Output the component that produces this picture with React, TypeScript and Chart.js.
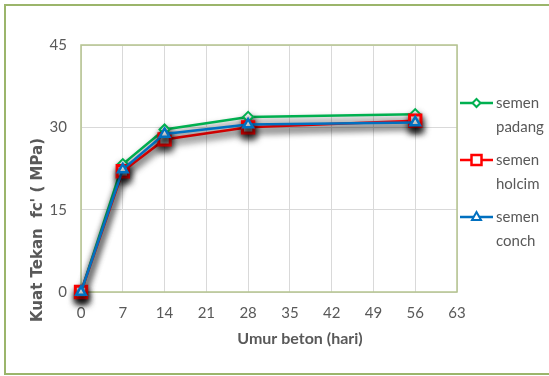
import { useEffect, useRef } from "react";
import { Chart, registerables } from "chart.js";

Chart.register(...registerables);

// Curing age (days) and compressive strength per cement brand (MPa)
const days = [0, 7, 14, 28, 56];
const padang = [0, 23.3, 29.6, 31.9, 32.4];
const holcim = [0, 22.0, 27.8, 30.0, 31.2];
const conch = [0, 22.3, 28.8, 30.5, 30.9];

const seriesLabels = [
  ["semen", "padang"],
  ["semen", "holcim"],
  ["semen", "conch"],
];
const yTitle = "Kuat Tekan  fc' ( MPa)";
const xTitle = "Umur beton (hari)";

const GREEN = "#00b050";
const RED = "#ff0000";
const BLUE = "#0070c0";
const TEXT = "#595959";
const FONT = "Lato, 'Open Sans', sans-serif";

const toPoints = (vals: number[]) => days.map((d, i) => ({ x: d, y: vals[i] }));

// Outer frame, plot border, axis titles and the two-line legend
const decorPlugin = {
  id: "decor",
  beforeDraw(chart: any) {
    const { ctx } = chart;
    ctx.save();
    ctx.fillStyle = "#ffffff";
    ctx.fillRect(0, 0, chart.width, chart.height);
    ctx.strokeStyle = "#9bb56b";
    ctx.lineWidth = 2;
    ctx.strokeRect(5, 5, chart.width + 20, chart.height - 7);
    ctx.restore();
  },
  beforeDatasetsDraw(chart: any) {
    const { ctx, chartArea: a } = chart;
    ctx.save();
    ctx.strokeStyle = "#b5c48f";
    ctx.lineWidth = 1.5;
    ctx.strokeRect(a.left, a.top, a.right - a.left, a.bottom - a.top);
    ctx.restore();
  },
  afterDraw(chart: any) {
    const { ctx, chartArea: a } = chart;
    ctx.save();
    ctx.fillStyle = TEXT;
    ctx.font = `bold 16px ${FONT}`;
    ctx.textAlign = "center";
    ctx.textBaseline = "middle";
    ctx.fillText(xTitle, 300, 339);
    ctx.font = `bold 15px 'DejaVu Sans', Verdana, sans-serif`;
    ctx.translate(38, 230);
    ctx.rotate(-Math.PI / 2);
    ctx.fillText(yTitle, 0, 0);
    ctx.restore();

    // legend
    const rows = [103, 160, 217];
    ctx.save();
    chart.data.datasets.forEach((ds: any, i: number) => {
      const y = rows[i];
      const x0 = a.right + 3;
      const x1 = a.right + 36;
      const cx = (x0 + x1) / 2;
      ctx.strokeStyle = ds.borderColor;
      ctx.lineWidth = 2.5;
      ctx.beginPath();
      ctx.moveTo(x0, y);
      ctx.lineTo(x1, y);
      ctx.stroke();
      ctx.fillStyle = "#ffffff";
      ctx.lineWidth = ds.legendMarkerWidth;
      ctx.beginPath();
      if (ds.pointStyle === "rectRot") {
        const r = 4;
        ctx.moveTo(cx, y - r);
        ctx.lineTo(cx + r, y);
        ctx.lineTo(cx, y + r);
        ctx.lineTo(cx - r, y);
        ctx.closePath();
      } else if (ds.pointStyle === "rect") {
        ctx.rect(cx - 5, y - 5, 10, 10);
      } else {
        ctx.moveTo(cx, y - 5);
        ctx.lineTo(cx + 4.5, y + 3);
        ctx.lineTo(cx - 4.5, y + 3);
        ctx.closePath();
      }
      ctx.fill();
      ctx.stroke();
      ctx.fillStyle = TEXT;
      ctx.font = `15px ${FONT}`;
      ctx.textAlign = "left";
      ctx.textBaseline = "middle";
      ctx.fillText(seriesLabels[i][0], x1 + 3, y);
      ctx.fillText(seriesLabels[i][1], x1 + 3, y + 24);
    });
    ctx.restore();
  },
};

// Soft drop shadow under each series line
const shadowPlugin = {
  id: "seriesShadow",
  beforeDatasetDraw(chart: any) {
    const { ctx } = chart;
    ctx.save();
    ctx.shadowColor = "rgba(0,0,0,0.75)";
    ctx.shadowBlur = 7;
    ctx.shadowOffsetX = 1;
    ctx.shadowOffsetY = 5;
  },
  afterDatasetDraw(chart: any) {
    chart.ctx.restore();
  },
};

export default function App() {
  const ref = useRef<HTMLCanvasElement | null>(null);

  useEffect(() => {
    if (!ref.current) return;
    const chart = new Chart(ref.current, {
      type: "line",
      data: {
        datasets: [
          {
            label: seriesLabels[0].join(" "),
            data: toPoints(padang),
            borderColor: GREEN,
            backgroundColor: "#ffffff",
            borderWidth: 2.5,
            pointStyle: "rectRot",
            pointRadius: 5,
            pointBorderWidth: 2,
            pointBackgroundColor: "#ffffff",
            order: 2,
            clip: false,
            legendMarkerWidth: 2,
          } as any,
          {
            label: seriesLabels[1].join(" "),
            data: toPoints(holcim),
            borderColor: RED,
            backgroundColor: "#ffffff",
            borderWidth: 2.5,
            pointStyle: "rect",
            pointRadius: 8,
            pointBorderWidth: 3,
            pointBackgroundColor: "#ffffff",
            order: 1,
            clip: false,
            legendMarkerWidth: 2.5,
          } as any,
          {
            label: seriesLabels[2].join(" "),
            data: toPoints(conch),
            borderColor: BLUE,
            backgroundColor: "#ffffff",
            borderWidth: 2.5,
            pointStyle: "triangle",
            pointRadius: 5.5,
            pointBorderWidth: 2.5,
            pointBackgroundColor: "#ffffff",
            order: 0,
            clip: false,
            legendMarkerWidth: 2,
          } as any,
        ],
      },
      options: {
        animation: false,
        responsive: false,
        devicePixelRatio: 1,
        layout: { padding: { left: 0, top: 45, right: 92, bottom: 0 } },
        plugins: {
          legend: { display: false },
          tooltip: { enabled: false },
        },
        scales: {
          x: {
            type: "linear",
            min: 0,
            max: 63,
            ticks: { stepSize: 7, color: TEXT, font: { family: FONT, size: 15 }, padding: 12 },
            grid: { color: "#d9d9d9", drawTicks: false },
            border: { display: false },
            afterFit(scale: any) {
              scale.height = 84;
            },
          },
          y: {
            min: 0,
            max: 45,
            ticks: { stepSize: 15, color: TEXT, font: { family: FONT, size: 15 }, padding: 14 },
            grid: { color: "#d9d9d9", drawTicks: false },
            border: { display: false },
            afterFit(scale: any) {
              scale.width = 81;
            },
          },
        },
      },
      plugins: [decorPlugin, shadowPlugin],
    });
    return () => chart.destroy();
  }, []);

  return (
    <div style={{ position: "fixed", left: 0, top: 0, width: 549, height: 376, background: "#fff" }}>
      <canvas ref={ref} width={549} height={376} style={{ display: "block" }} />
    </div>
  );
}
